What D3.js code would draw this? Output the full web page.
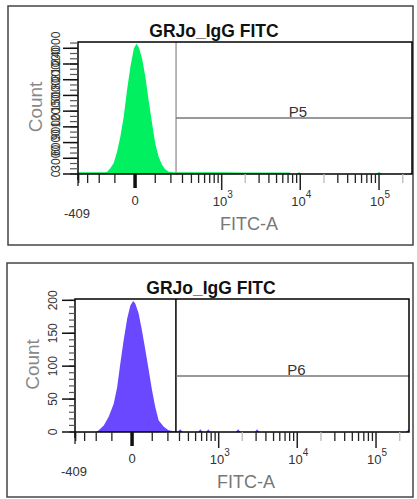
<!DOCTYPE html>
<html><head><meta charset="utf-8">
<script src="https://cdn.jsdelivr.net/npm/d3@7"></script>
<style>body{margin:0;background:#fff;} svg{display:block;font-family:"Liberation Sans",Arial,sans-serif;}</style>
</head><body><svg id="c" width="417" height="499"></svg>
<script>
// ---------- data ----------
const titles = ["GRJo_IgG FITC", "GRJo_IgG FITC"];
const gateNames = ["P5", "P6"];
const xAxisLabel = "FITC-A";
const yAxisLabel = "Count";
const xMinValue = -409, xMaxValue = 262143;
const xMinLabel = "-409";

// top histogram (FITC-A bin centre, count)
const topBins   = [-409, -300, -200, -160, -146, -126, -107, -88, -71, -54, -38, -22, -6, 6, 17, 33, 49, 65, 83, 100, 119, 140, 160, 184, 221, 300, 500, 1000, 2000, 4000, 7400, 7600, 9000, 9700, 10400, 90000, 100000, 110000, 240000, 262143];
const topCounts = [350, 350, 350, 350, 400, 1080, 2030, 4250, 7110, 10920, 16000, 20440, 23930, 24880, 24250, 22030, 18530, 14090, 9650, 5840, 3300, 1710, 890, 440, 350, 350, 330, 330, 300, 300, 300, 0, 0, 400, 0, 0, 400, 0, 0, 400];
// bottom histogram
const botBins   = [-409, -200, -182, -148, -118, -90, -72, -56, -40, -23, -8, 5, 15, 31, 47, 64, 81, 99, 117, 137, 170, 205, 248, 280, 307, 335, 540, 578, 620, 690, 733, 780, 1650, 1776, 1900, 2900, 3090, 3300, 240000, 262143];
const botCounts = [0, 0, 2.5, 10, 23, 43, 68, 104, 139, 172, 192, 199, 195, 180, 154, 124, 94, 63, 38, 18, 8, 2.5, 1, 0, 4, 0, 0, 4, 0, 0, 4, 0, 0, 4, 0, 0, 4, 0, 0, 4];

const topYTicks = [0, 3000, 6000, 9000, 12000, 15000, 18000, 21000, 24000];
const topYMinor = d3.range(0, 25001, 1000);
const topYMax = 25200;
const botYTicks = [0, 50, 100, 150, 200];
const botYMinor = d3.range(0, 201, 10);
const botYMax = 202;

const gateStart = [241, 266];
const gateLevel = [10690, 85];

const xDecades = [1000, 10000, 100000];
const xDecadeExp = ["3", "4", "5"];
const xMinorTicks = [-400, -300, -200, -100, 100, 200, 300, 400, 500, 600, 700, 800, 900,
  2000, 3000, 4000, 5000, 6000, 7000, 8000, 9000,
  20000, 30000, 40000, 50000, 60000, 70000, 80000, 90000, 200000];
const xFaintTicks = [2000, 20000, 200000];

// ---------- layout ----------
const panels = [
  {box:[8,6,413,245], plot:{l:78,t:42,r:412,b:174}, bins:topBins, counts:topCounts, yTicks:topYTicks, yMinor:topYMinor, yMax:topYMax, color:"#00f060", gateV:"#a0a0a0", majLen:15, minLen:8},
  {box:[7,263,413,497], plot:{l:75,t:299,r:409,b:432}, bins:botBins, counts:botCounts, yTicks:botYTicks, yMinor:botYMinor, yMax:botYMax, color:"#6a48ff", gateV:"#000", majLen:13, minLen:6}
];

const svg = d3.select("#c");
const C = 160;
const T = v => Math.asinh(v / C);

panels.forEach((p, i) => {
  const g = svg.append("g");
  const P = p.plot;
  g.append("rect").attr("x", p.box[0]).attr("y", p.box[1]).attr("width", p.box[2]-p.box[0]).attr("height", p.box[3]-p.box[1])
    .attr("fill", "none").attr("stroke", "#444").attr("stroke-width", 1.5);

  const xl = d3.scaleLinear().domain([T(xMinValue), T(xMaxValue)]).range([P.l, P.r]);
  const x = v => xl(T(v));
  const y = d3.scaleLinear().domain([0, p.yMax]).range([P.b, P.t]);

  const clipId = "clip" + i;
  g.append("clipPath").attr("id", clipId).append("rect").attr("x", P.l).attr("y", P.t).attr("width", P.r-P.l).attr("height", P.b-P.t);

  const data = p.bins.map((v, k) => ({v, c: p.counts[k]}));
  const area = d3.area().x(d => x(d.v)).y0(P.b).y1(d => y(d.c));
  g.append("path").datum(data).attr("d", area).attr("fill", p.color).attr("clip-path", `url(#${clipId})`);

  // gate
  const gx = x(gateStart[i]);
  g.append("line").attr("x1", gx).attr("x2", gx).attr("y1", P.t).attr("y2", P.b).attr("stroke", p.gateV).attr("stroke-width", 1.5);
  g.append("line").attr("x1", gx).attr("x2", P.r).attr("y1", y(gateLevel[i])).attr("y2", y(gateLevel[i])).attr("stroke", "#777").attr("stroke-width", 1.5);
  g.append("text").attr("x", (gx + P.r) / 2 + 4).attr("y", y(gateLevel[i]) - 1.5).attr("text-anchor", "middle")
    .attr("font-size", 15).attr("fill", "#333").text(gateNames[i]);

  // frame
  g.append("rect").attr("x", P.l).attr("y", P.t).attr("width", P.r-P.l).attr("height", P.b-P.t)
    .attr("fill", "none").attr("stroke", "#000").attr("stroke-width", 1.5);

  // title
  g.append("text").attr("x", (P.l + P.r) / 2 - 31).attr("y", P.t - 5).attr("text-anchor", "middle")
    .attr("font-size", 17.5).attr("font-weight", "bold").attr("fill", "#111").text(titles[i]);

  // x axis ticks
  const xa = g.append("g");
  xa.selectAll("line.minor").data(xMinorTicks).join("line")
    .attr("x1", d => x(d)).attr("x2", d => x(d)).attr("y1", P.b).attr("y2", P.b + 9)
    .attr("stroke", d => xFaintTicks.includes(d) ? "#bbb" : "#222").attr("stroke-width", 1.3);
  xa.selectAll("line.dec").data(xDecades).join("line")
    .attr("x1", d => x(d)).attr("x2", d => x(d)).attr("y1", P.b).attr("y2", P.b + 16)
    .attr("stroke", "#222").attr("stroke-width", 1.5);
  xa.append("line").attr("x1", x(0)).attr("x2", x(0)).attr("y1", P.b).attr("y2", P.b + 14).attr("stroke", "#111").attr("stroke-width", 3.5);
  xa.append("line").attr("x1", P.l).attr("x2", P.l).attr("y1", P.b).attr("y2", P.b + 12).attr("stroke", "#222").attr("stroke-width", 1.3);

  const decLab = xa.selectAll("text.dec").data(xDecades).join("text")
    .attr("x", d => x(d) + 1).attr("y", P.b + 32).attr("text-anchor", "middle")
    .attr("font-size", 13).attr("fill", "#333");
  decLab.append("tspan").text("10");
  decLab.append("tspan").attr("dy", -8).attr("font-size", 10).text((d, k) => xDecadeExp[k]);
  xa.append("text").attr("x", x(0)).attr("y", P.b + 31).attr("text-anchor", "middle").attr("font-size", 13).attr("fill", "#333").text("0");
  xa.append("text").attr("x", P.l - 1).attr("y", P.b + 44).attr("text-anchor", "middle").attr("font-size", 13).attr("fill", "#333").text(xMinLabel);
  xa.append("text").attr("x", (P.l + P.r) / 2 + 4).attr("y", P.b + 56).attr("text-anchor", "middle").attr("font-size", 18).attr("fill", "#777").text(xAxisLabel);

  // y axis
  const ya = g.append("g");
  ya.selectAll("line.minor").data(p.yMinor).join("line")
    .attr("x1", P.l - p.minLen).attr("x2", P.l).attr("y1", d => y(d)).attr("y2", d => y(d))
    .attr("stroke", "#555").attr("stroke-width", 1.2);
  ya.selectAll("line.maj").data(p.yTicks).join("line")
    .attr("x1", P.l - p.majLen).attr("x2", P.l).attr("y1", d => y(d)).attr("y2", d => y(d))
    .attr("stroke", "#111").attr("stroke-width", 1.5);
  ya.selectAll("text.maj").data(p.yTicks).join("text")
    .attr("transform", d => `translate(${P.l - 18},${y(d)}) rotate(-90)`)
    .attr("text-anchor", "middle").attr("font-size", 12).attr("fill", "#333").text(d => d);
  ya.append("line").attr("x1", P.l).attr("x2", P.l).attr("y1", P.b).attr("y2", P.b + 6).attr("stroke", "#111").attr("stroke-width", 1.5);
  ya.append("text").attr("transform", `translate(${P.l - 36},${(P.t + P.b) / 2 - 1}) rotate(-90)`)
    .attr("text-anchor", "middle").attr("font-size", 19).attr("fill", "#888").text(yAxisLabel);
});
</script></body></html>
